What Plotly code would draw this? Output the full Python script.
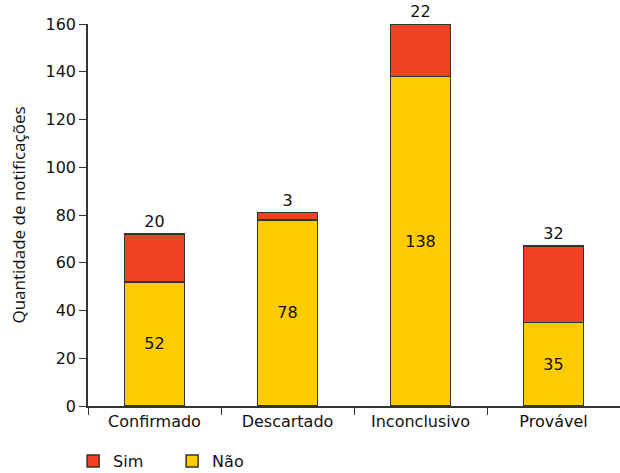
import plotly.graph_objects as go

categories = ["Confirmado", "Descartado", "Inconclusivo", "Provável"]
nao = [52, 78, 138, 35]
sim = [20, 3, 22, 32]
y_ticks = [0, 20, 40, 60, 80, 100, 120, 140, 160]

FONT = "DejaVu Sans"
TITLE_FONT = "Open Sans"
EDGE = dict(color="#333333", width=1.5)

fig = go.Figure()
fig.add_trace(go.Bar(
    x=categories, y=nao, name="Não",
    marker=dict(color="#FFCC00", line=EDGE),
    text=nao, textposition="inside", insidetextanchor="middle",
    textfont=dict(family=FONT, size=16, color="#111111"),
    width=0.45,
))
fig.add_trace(go.Bar(
    x=categories, y=sim, name="Sim",
    marker=dict(color="#EF4123", line=EDGE),
    text=sim, textposition="outside",
    textfont=dict(family=FONT, size=16, color="#111111"),
    width=0.45, cliponaxis=False,
))

fig.update_layout(
    barmode="stack",
    width=620, height=473,
    margin=dict(l=88, r=0, t=24, b=67, autoexpand=False),
    plot_bgcolor="white", paper_bgcolor="white",
    font=dict(family=FONT, size=16, color="#111111"),
    showlegend=True,
    legend=dict(
        orientation="h", traceorder="reversed",
        x=-0.028, xanchor="left", y=-0.10, yanchor="top",
        font=dict(family=FONT, size=16),
        entrywidth=54, entrywidthmode="pixels",
    ),
    uniformtext=dict(mode=False),
)
fig.update_xaxes(
    showline=True, linecolor="#333333", linewidth=1.5,
    ticks="outside", tickson="boundaries", ticklen=7, tickcolor="#333333",
    tickfont=dict(family=FONT, size=16),
    range=[-0.5, 3.5], automargin=False,
)
fig.update_yaxes(
    range=[0, 160], tickvals=y_ticks,
    showline=True, linecolor="#333333", linewidth=1.5,
    ticks="outside", ticklen=7, tickcolor="#333333",
    showgrid=False, zeroline=False,
    tickfont=dict(family=FONT, size=16),
    automargin=False,
    title=dict(text="Quantidade de notificações",
               font=dict(family=TITLE_FONT, size=17), standoff=16),
)

fig.write_html("out.html")
